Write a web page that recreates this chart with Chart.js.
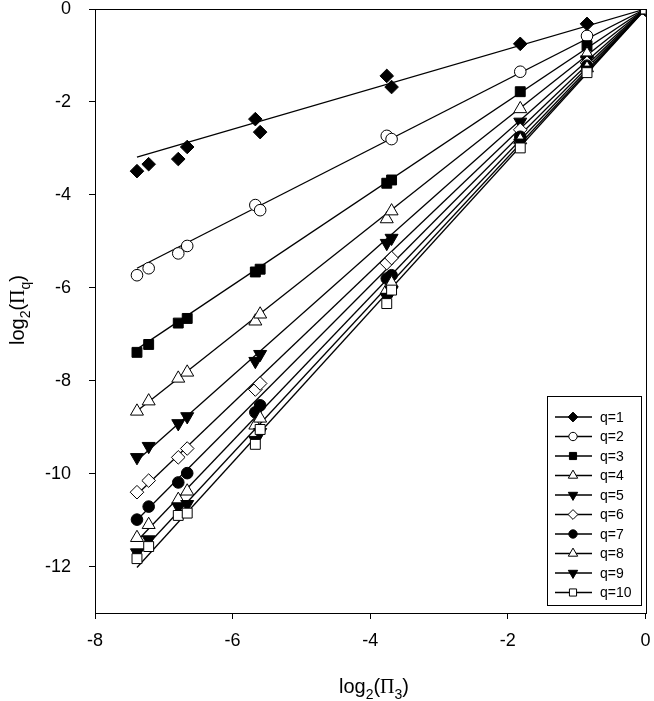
<!DOCTYPE html>
<html>
<head>
<meta charset="utf-8">
<script src="https://cdn.jsdelivr.net/npm/chart.js@4/dist/chart.umd.min.js"></script>
<style>
  html, body { margin: 0; padding: 0; background: #fff; }
  canvas { display: block; }
</style>
</head>
<body>
<canvas id="c" width="654" height="701"></canvas>
<script>
// ---------------- data ----------------
const seriesNames = ['q=1','q=2','q=3','q=4','q=5','q=6','q=7','q=8','q=9','q=10'];
const xValues = [-7.39, -7.22, -6.79, -6.66, -5.67, -5.60, -3.76, -3.69, -1.82, -0.85, 0];
const q1  = [-3.49, -3.34, -3.23, -2.97, -2.37, -2.65, -1.44, -1.68, -0.75, -0.32, 0];
const q2  = [-5.73, -5.58, -5.26, -5.10, -4.22, -4.33, -2.73, -2.80, -1.35, -0.58, 0];
const q3  = [-7.39, -7.22, -6.76, -6.66, -5.66, -5.60, -3.75, -3.68, -1.78, -0.79, 0];
const q4  = [-8.66, -8.44, -7.95, -7.82, -6.72, -6.57, -4.52, -4.35, -2.15, -0.97, 0];
const q5  = [-9.65, -9.41, -8.92, -8.77, -7.58, -7.43, -5.04, -4.93, -2.43, -1.09, 0];
const q6  = [-10.40, -10.15, -9.65, -9.46, -8.19, -8.06, -5.47, -5.36, -2.60, -1.16, 0];
const q7  = [-10.99, -10.71, -10.19, -9.99, -8.68, -8.53, -5.80, -5.73, -2.75, -1.22, 0];
const q8  = [-11.38, -11.10, -10.56, -10.38, -8.96, -8.81, -6.05, -5.90, -2.82, -1.27, 0];
const q9  = [-11.70, -11.42, -10.71, -10.66, -9.28, -9.11, -6.20, -6.06, -2.88, -1.31, 0];
const q10 = [-11.83, -11.57, -10.90, -10.85, -9.37, -9.05, -6.34, -6.05, -2.99, -1.37, 0];
const seriesValues = [q1, q2, q3, q4, q5, q6, q7, q8, q9, q10];
// fitted lines: endpoints
const fitX = [-7.39, 0];
const fitLeftY = [-3.19, -5.58, -7.32, -8.65, -9.72, -10.45, -11.00, -11.45, -11.78, -12.02];
const fitRightY = [0, 0, 0, 0, 0, 0, 0, 0, 0, 0];
const xTicks = [-8, -6, -4, -2, 0];
const yTicks = [0, -2, -4, -6, -8, -10, -12];
const xTitleParts = [['log', false], ['2', true], ['(', false], ['\u03A0', false, true], ['3', true], [')', false]];
const yTitleParts = [['log', false], ['2', true], ['(', false], ['\u03A0', false, true], ['q', true], [')', false]];

// ---------------- styles ----------------
const markerStyle = ['rectRot','circle','rect','triangle','triangle','rectRot','circle','triangle','triangle','rect'];
const markerFilled = [true,false,true,false,true,false,true,false,true,false];
const markerRot = [0,0,0,0,180,0,0,0,180,0];
const markerRadius = { rectRot: 6.8, circle: 5.8, rect: 7, triangle: 7.5 };
const FONT = '"Liberation Sans", Arial, sans-serif';

const datasets = [];
seriesValues.forEach((vals, i) => {
  datasets.push({
    type: 'line',
    label: seriesNames[i] + ' fit',
    data: fitX.map((x, k) => ({ x: x, y: k === 0 ? fitLeftY[i] : fitRightY[i] })),
    borderColor: '#000',
    borderWidth: 1.3,
    pointRadius: 0,
    fill: false,
    order: 30 + i
  });
});
seriesValues.forEach((vals, i) => {
  datasets.push({
    type: 'scatter',
    label: seriesNames[i],
    data: xValues.map((x, k) => ({ x: x, y: vals[k] })),
    showLine: false,
    pointStyle: markerStyle[i],
    pointRotation: markerRot[i],
    pointRadius: markerRadius[markerStyle[i]],
    pointBackgroundColor: markerFilled[i] ? '#000' : '#fff',
    pointBorderColor: '#000',
    pointBorderWidth: 1,
    order: 11 - (i + 1)
  });
});

function drawMarker(ctx, style, x, y, r, filled, rot) {
  ctx.save();
  ctx.beginPath();
  if (style === 'circle') {
    ctx.arc(x, y, r, 0, Math.PI * 2);
  } else if (style === 'rect') {
    const s = r * Math.SQRT1_2;
    ctx.rect(x - s, y - s, 2 * s, 2 * s);
  } else if (style === 'rectRot') {
    ctx.moveTo(x - r, y); ctx.lineTo(x, y - r); ctx.lineTo(x + r, y); ctx.lineTo(x, y + r); ctx.closePath();
  } else if (style === 'triangle') {
    let a = rot * Math.PI / 180;
    ctx.moveTo(x + Math.sin(a) * r, y - Math.cos(a) * r);
    a += 2 * Math.PI / 3;
    ctx.lineTo(x + Math.sin(a) * r, y - Math.cos(a) * r);
    a += 2 * Math.PI / 3;
    ctx.lineTo(x + Math.sin(a) * r, y - Math.cos(a) * r);
    ctx.closePath();
  }
  ctx.fillStyle = filled ? '#000' : '#fff';
  ctx.fill();
  ctx.lineWidth = 1;
  ctx.strokeStyle = '#000';
  ctx.stroke();
  ctx.restore();
}

function drawParts(ctx, parts, size) {
  const widths = parts.map(p => {
    ctx.font = (p[1] ? Math.round(size * 0.68) : size) + 'px ' + (p[2] ? '"Liberation Serif", serif' : FONT);
    return ctx.measureText(p[0]).width;
  });
  const total = widths.reduce((a, b) => a + b, 0);
  let x = -total / 2;
  parts.forEach((p, i) => {
    ctx.font = (p[1] ? Math.round(size * 0.68) : size) + 'px ' + (p[2] ? '"Liberation Serif", serif' : FONT);
    ctx.textAlign = 'left';
    ctx.textBaseline = 'alphabetic';
    ctx.fillText(p[0], x, p[1] ? size * 0.28 : 0);
    x += widths[i];
  });
}

function noPad(scale) {
  scale.paddingTop = 0; scale.paddingBottom = 0;
  scale.paddingLeft = 0; scale.paddingRight = 0;
}

const decor = {
  id: 'decor',
  afterDraw(chart) {
    const ctx = chart.ctx;
    const a = chart.chartArea;
    ctx.save();
    ctx.strokeStyle = '#000';
    ctx.lineWidth = 1;
    ctx.strokeRect(Math.round(a.left) + 0.5, Math.round(a.top) + 0.5, Math.round(a.right - a.left), Math.round(a.bottom - a.top));
    ctx.fillStyle = '#000';
    // x title
    ctx.save();
    ctx.translate(374, 693);
    drawParts(ctx, xTitleParts, 20);
    ctx.restore();
    // y title
    ctx.save();
    ctx.translate(24, 310);
    ctx.rotate(-Math.PI / 2);
    drawParts(ctx, yTitleParts, 20);
    ctx.restore();
    // legend
    const bx = 547, by = 396, bw = 94, bh = 209;
    ctx.fillStyle = '#fff';
    ctx.fillRect(bx, by, bw, bh);
    ctx.strokeStyle = '#000';
    ctx.lineWidth = 1;
    ctx.strokeRect(bx + 0.5, by + 0.5, bw, bh);
    seriesNames.forEach((name, i) => {
      const y = 417 + i * 19.5;
      ctx.beginPath();
      ctx.moveTo(555, y); ctx.lineTo(592, y);
      ctx.lineWidth = 1.3;
      ctx.strokeStyle = '#000';
      ctx.stroke();
      drawMarker(ctx, markerStyle[i], 573, y, markerRadius[markerStyle[i]] * 0.72, markerFilled[i], markerRot[i]);
      ctx.fillStyle = '#000';
      ctx.font = '14px ' + FONT;
      ctx.textAlign = 'left';
      ctx.textBaseline = 'middle';
      ctx.fillText(name, 600, y + 1);
    });
    ctx.restore();
  }
};

new Chart(document.getElementById('c'), {
  data: { datasets: datasets },
  options: {
    responsive: false,
    animation: false,
    layout: { padding: { top: 9, right: 6, left: 0, bottom: 0 } },
    plugins: { legend: { display: false }, tooltip: { enabled: false } },
    scales: {
      x: {
        type: 'linear', min: -8, max: 0,
        afterBuildTicks(scale) { scale.ticks = xTicks.map(v => ({ value: v })); },
        afterFit(scale) { scale.height = 88; noPad(scale); },
        ticks: { color: '#000', font: { family: FONT, size: 18 }, padding: 11, maxRotation: 0 },
        grid: { drawOnChartArea: false, drawTicks: true, tickLength: 6, color: '#000' },
        border: { display: true, color: '#000', width: 1 }
      },
      y: {
        type: 'linear', min: -13, max: 0,
        afterBuildTicks(scale) { scale.ticks = yTicks.map(v => ({ value: v })); },
        afterFit(scale) { scale.width = 95; noPad(scale); },
        ticks: { color: '#000', font: { family: FONT, size: 18 }, padding: 18 },
        grid: { drawOnChartArea: false, drawTicks: true, tickLength: 6, color: '#000' },
        border: { display: true, color: '#000', width: 1 }
      }
    }
  },
  plugins: [decor]
});
</script>
</body>
</html>
